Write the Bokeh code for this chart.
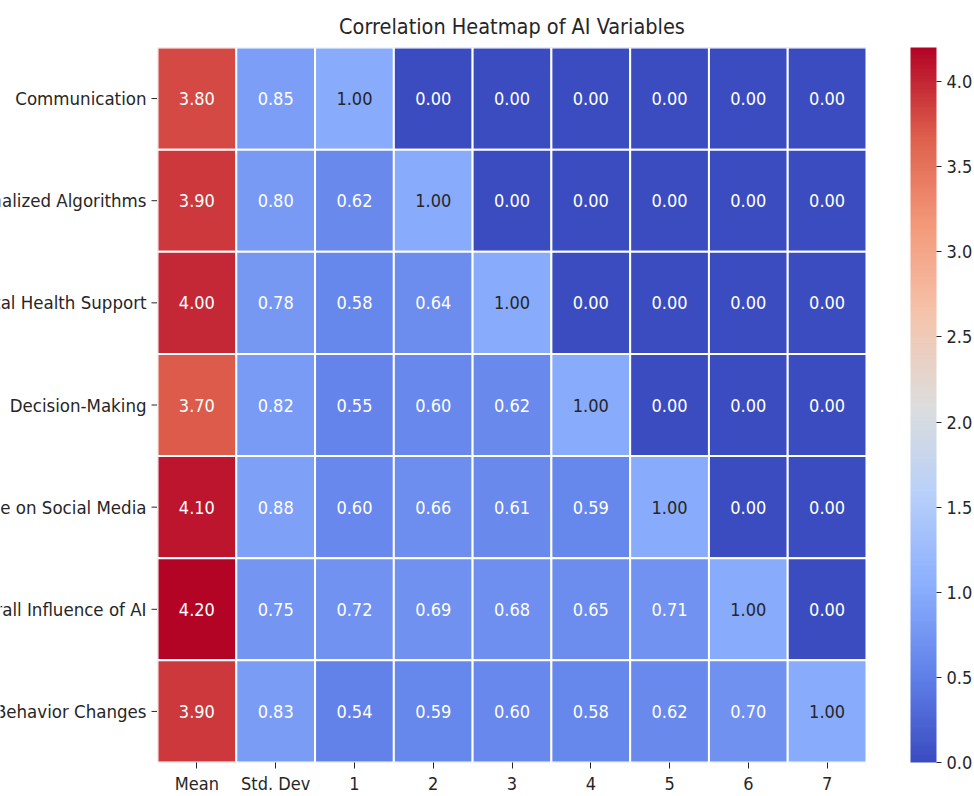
import numpy as np
from bokeh.plotting import figure
from bokeh.layouts import row
from bokeh.models import (ColumnDataSource, LinearColorMapper, ColorBar, FixedTicker,
                          Range1d, LabelSet, PrintfTickFormatter)
from bokeh.core.properties import value
from bokeh.embed import file_html
from bokeh.resources import INLINE

# ---- data -------------------------------------------------------------
variables = ["Communication", "Personalized Algorithms", "Mental Health Support",
             "Decision-Making", "Time on Social Media", "Overall Influence of AI",
             "Behavior Changes"]
columns = ["Mean", "Std. Dev", "1", "2", "3", "4", "5", "6", "7"]

mean = [3.80, 3.90, 4.00, 3.70, 4.10, 4.20, 3.90]
std_dev = [0.85, 0.80, 0.78, 0.82, 0.88, 0.75, 0.83]
corr = [
    [1.00, 0.00, 0.00, 0.00, 0.00, 0.00, 0.00],
    [0.62, 1.00, 0.00, 0.00, 0.00, 0.00, 0.00],
    [0.58, 0.64, 1.00, 0.00, 0.00, 0.00, 0.00],
    [0.55, 0.60, 0.62, 1.00, 0.00, 0.00, 0.00],
    [0.60, 0.66, 0.61, 0.59, 1.00, 0.00, 0.00],
    [0.72, 0.69, 0.68, 0.65, 0.71, 1.00, 0.00],
    [0.54, 0.59, 0.60, 0.58, 0.62, 0.70, 1.00],
]
vmin, vmax = 0.0, 4.2
cbar_ticks = [0.0, 0.5, 1.0, 1.5, 2.0, 2.5, 3.0, 3.5, 4.0]

FONT = "DejaVu Sans Condensed"
INK = "#262626"

# ---- layout sizes (px) -------------------------------------------------
LABEL_W = 157      # strip holding the row names
FRAME_W = 709
FRAME_H = 715
TOP = 47
BOTTOM = 34
GAP = 44           # space between heatmap and colour bar

# ---- coolwarm palette -------------------------------------------------
anchors = [(0.0, "#3b4cc0"), (0.125, "#6282ea"), (0.25, "#8db0fe"), (0.375, "#b8d0f9"),
           (0.5, "#dddddd"), (0.625, "#f5c4ac"), (0.75, "#f49a7b"), (0.875, "#de604d"),
           (1.0, "#b40426")]
pos = np.array([a[0] for a in anchors])
rgb = np.array([[int(h[i:i + 2], 16) for i in (1, 3, 5)] for _, h in anchors], dtype=float)
t = np.linspace(0, 1, 256)
pal_rgb = np.stack([np.interp(t, pos, rgb[:, k]) for k in range(3)], axis=1)
palette = ["#%02x%02x%02x" % tuple(int(round(v)) for v in c) for c in pal_rgb]


def text_color(v):
    idx = int(np.clip((v - vmin) / (vmax - vmin) * 255, 0, 255))
    c = pal_rgb[idx] / 255.0
    lin = np.where(c <= 0.03928, c / 12.92, ((c + 0.055) / 1.055) ** 2.4)
    lum = 0.2126 * lin[0] + 0.7152 * lin[1] + 0.0722 * lin[2]
    return INK if lum > 0.408 else "#ffffff"


# ---- cell table -------------------------------------------------------
xs, ys, vals = [], [], []
for r in range(len(variables)):
    row_vals = [mean[r], std_dev[r]] + corr[r]
    for c, v in enumerate(row_vals):
        xs.append(c + 0.5)
        ys.append(r + 0.5)
        vals.append(v)
source = ColumnDataSource(dict(
    x=xs, y=ys, v=vals,
    label=["%.2f" % v for v in vals],
    tcolor=[text_color(v) for v in vals],
))

mapper = LinearColorMapper(palette=palette, low=vmin, high=vmax)
n_cols, n_rows = len(columns), len(variables)
y_range = Range1d(n_rows, 0)

# ---- heatmap ----------------------------------------------------------
p = figure(
    frame_width=FRAME_W, frame_height=FRAME_H,
    x_range=Range1d(0, n_cols), y_range=y_range,
    output_backend="svg", toolbar_location=None,
    min_border_left=0, min_border_right=0, min_border_top=TOP, min_border_bottom=BOTTOM,
    title="Correlation Heatmap of AI Variables",
)
p.title.align = "center"
p.title.text_font = FONT
p.title.text_font_size = "21.5px"
p.title.text_font_style = "normal"
p.title.text_color = INK
p.title.text_line_height = 0.8
p.title.standoff = 18
p.outline_line_color = None
p.grid.visible = False
p.yaxis.visible = False

p.rect(x="x", y="y", width=1, height=1, source=source,
       fill_color={"field": "v", "transform": mapper},
       line_color="white", line_width=2)

cell_text = LabelSet(x="x", y="y", text="label", source=source,
                     text_align="center", text_baseline="middle",
                     text_font=value(FONT), text_font_size="18px", text_color="tcolor")
p.add_layout(cell_text)

p.xaxis.ticker = FixedTicker(ticks=[c + 0.5 for c in range(n_cols)])
p.xaxis.major_label_overrides = {c + 0.5: name for c, name in enumerate(columns)}
p.xaxis.axis_line_color = None
p.xaxis.minor_tick_line_color = None
p.xaxis.major_tick_in = 0
p.xaxis.major_tick_out = 6
p.xaxis.major_tick_line_color = INK
p.xaxis.major_label_text_font = FONT
p.xaxis.major_label_text_font_size = "18px"
p.xaxis.major_label_text_color = INK
p.xaxis.major_label_standoff = 4

# ---- row names: right-aligned against the heatmap, clipped at the page edge
names = figure(
    width=LABEL_W, frame_height=FRAME_H,
    x_range=Range1d(0, LABEL_W), y_range=y_range,
    output_backend="svg", toolbar_location=None,
    min_border_left=0, min_border_right=0, min_border_top=TOP, min_border_bottom=BOTTOM,
)
names.axis.visible = False
names.grid.visible = False
names.outline_line_color = None
name_src = ColumnDataSource(dict(x=[LABEL_W] * n_rows,
                                 y=[r + 0.5 for r in range(n_rows)],
                                 text=variables))
names.text(x="x", y="y", text="text", source=name_src, x_offset=-11,
           text_align="right", text_baseline="middle",
           text_font=value(FONT), text_font_size="18.5px", text_color=INK)
names.ray(x="x", y="y", source=name_src, length=6, angle=np.pi,
          length_units="screen", line_color=INK, line_width=1)

# ---- colour bar -------------------------------------------------------
cb = figure(
    frame_width=GAP, frame_height=FRAME_H,
    x_range=Range1d(0, 1), y_range=Range1d(0, 1),
    output_backend="svg", toolbar_location=None,
    min_border_left=0, min_border_right=0, min_border_top=TOP, min_border_bottom=BOTTOM,
)
cb.axis.visible = False
cb.grid.visible = False
cb.outline_line_color = None
cbar = ColorBar(color_mapper=mapper, width=26,
                ticker=FixedTicker(ticks=cbar_ticks),
                formatter=PrintfTickFormatter(format="%.1f"),
                major_tick_in=0, major_tick_out=5, major_tick_line_color=INK,
                minor_tick_line_color=None, bar_line_color=None,
                major_label_text_font=FONT, major_label_text_font_size="18px",
                major_label_text_color=INK, label_standoff=5,
                padding=0)
cb.add_layout(cbar, "right")

layout = row(names, p, cb)
open("out.html", "w").write(file_html(layout, INLINE))
